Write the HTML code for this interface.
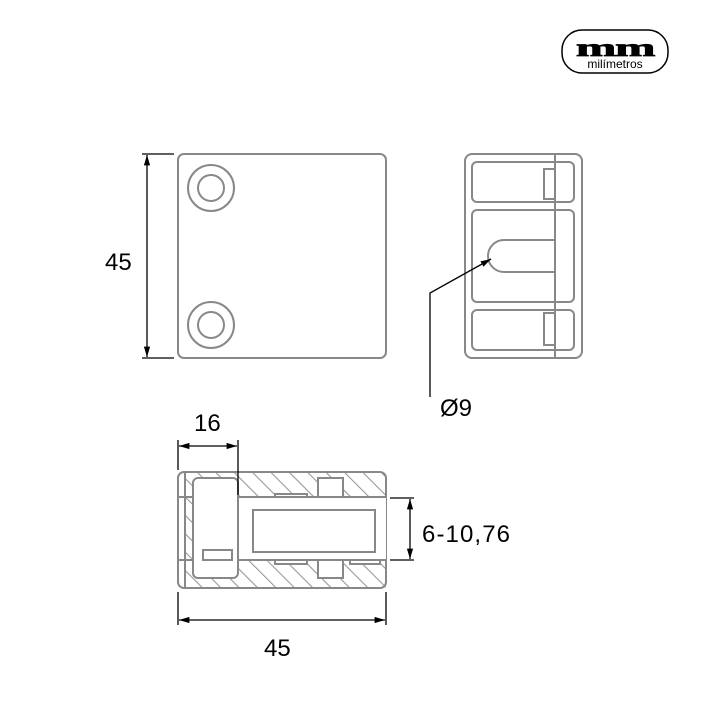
<!DOCTYPE html>
<html><head><style>body{margin:0;background:#fff}svg{display:block}</style></head><body>
<svg width="720" height="720" viewBox="0 0 720 720" xmlns="http://www.w3.org/2000/svg" font-family="Liberation Sans, DejaVu Sans, sans-serif">
<defs>
<marker id="a" viewBox="0 0 10 10" refX="10" refY="5" markerWidth="8" markerHeight="8" orient="auto-start-reverse"><path d="M0,2 L10,5 L0,8 Z" fill="#000"/></marker>
<clipPath id="hc"><path d="M185,472 H386 V497 H238 V478 H193 V472 Z M185,560 H386 V588 H185 Z M185,472 H193 V588 H185 Z"/></clipPath>
<pattern id="h" width="13" height="13" patternUnits="userSpaceOnUse" patternTransform="rotate(-45)"><line x1="0" y1="0" x2="0" y2="13" stroke="#999" stroke-width="2.2"/></pattern>
</defs>
<rect x="562" y="30" width="106" height="43" rx="20" fill="none" stroke="#000" stroke-width="1.5"/>
<g transform="translate(615,56) scale(1.35,0.7)"><text x="0" y="0" text-anchor="middle" font-family="Liberation Serif, serif" font-weight="bold" font-size="36" letter-spacing="-1" stroke="#000" stroke-width="1">mm</text></g>
<text x="615" y="68" text-anchor="middle" font-size="12">milímetros</text>
<g fill="none" stroke="#888" stroke-width="2">
<rect x="178" y="154" width="208" height="204" rx="6"/>
<circle cx="211" cy="188" r="23"/><circle cx="211" cy="188" r="13"/>
<circle cx="211" cy="325" r="23"/><circle cx="211" cy="325" r="13"/>
<rect x="465" y="154" width="117" height="204" rx="7"/>
<rect x="472" y="162" width="102" height="40" rx="5"/>
<rect x="472" y="210" width="102" height="92" rx="5"/>
<rect x="472" y="310" width="102" height="40" rx="5"/>
<line x1="555" y1="154" x2="555" y2="358"/>
<rect x="544" y="169" width="11" height="30"/>
<rect x="544" y="313" width="11" height="32"/>
<path d="M555,240 H504 A16,16 0 0 0 504,272 H555"/>
<rect x="185" y="472" width="201" height="116" fill="url(#h)" stroke="none" clip-path="url(#hc)"/>
<rect x="178" y="472" width="208" height="116" rx="6"/>
<line x1="185" y1="472" x2="185" y2="588"/>
<line x1="178" y1="497" x2="193" y2="497"/>
<rect x="238" y="497" width="148" height="63" fill="#fff" stroke="none"/>
<line x1="238" y1="497" x2="386" y2="497"/>
<line x1="178" y1="560" x2="386" y2="560"/>
<rect x="193" y="478" width="45" height="100" rx="5" fill="#fff"/>
<rect x="203" y="550" width="29" height="10" fill="#fff"/>
<rect x="253" y="510" width="122" height="42"/>
<rect x="275" y="494" width="32" height="3" fill="#fff"/>
<rect x="318" y="478" width="25" height="19" fill="#fff"/>
<rect x="275" y="560" width="32" height="4" fill="#fff"/>
<rect x="318" y="560" width="25" height="18" fill="#fff"/>
<rect x="350" y="560" width="30" height="4" fill="#fff"/>
</g>
<g stroke="#000" stroke-width="1.3" fill="none">
<line x1="142" y1="154" x2="174" y2="154"/><line x1="142" y1="358" x2="174" y2="358"/>
<line x1="147" y1="155" x2="147" y2="357" marker-start="url(#a)" marker-end="url(#a)"/>
<path d="M430,397 V293 L491,259" marker-end="url(#a)"/>
<line x1="178" y1="440" x2="178" y2="470"/><line x1="238" y1="440" x2="238" y2="495"/>
<line x1="179" y1="446" x2="237" y2="446" marker-start="url(#a)" marker-end="url(#a)"/>
<line x1="390" y1="498" x2="414" y2="498"/><line x1="390" y1="560" x2="414" y2="560"/>
<line x1="410" y1="499" x2="410" y2="559" marker-start="url(#a)" marker-end="url(#a)"/>
<line x1="178" y1="592" x2="178" y2="625"/><line x1="386" y1="592" x2="386" y2="625"/>
<line x1="179" y1="620" x2="385" y2="620" marker-start="url(#a)" marker-end="url(#a)"/>
</g>
<g font-size="24" fill="#000">
<text x="105" y="270">45</text>
<text x="194" y="431">16</text>
<text x="440" y="416">Ø9</text>
<text x="422" y="542" textLength="88">6-10,76</text>
<text x="264" y="656">45</text>
</g>
</svg>
</body></html>
